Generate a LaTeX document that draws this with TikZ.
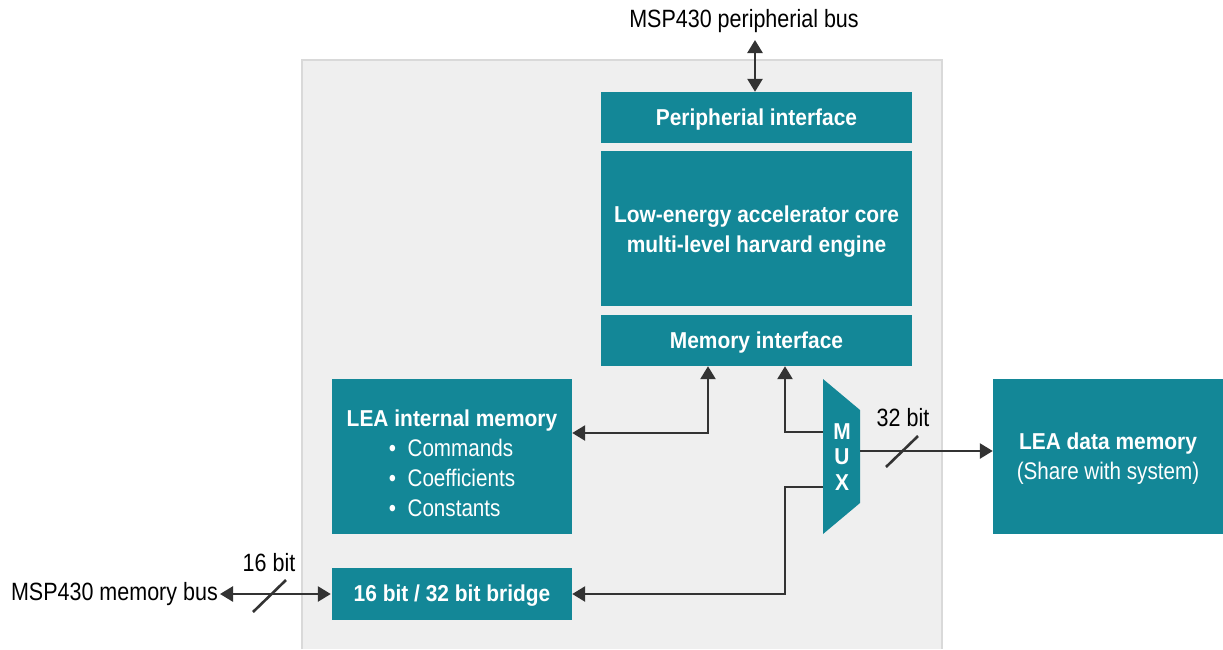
\documentclass[tikz,border=0pt]{standalone}
\usepackage{fontspec}
\setmainfont{Liberation Sans}[FakeStretch=0.86, BoldFeatures={FakeStretch=0.91}]
\usetikzlibrary{arrows.meta,calc}
\definecolor{teal1}{HTML}{138797}
\definecolor{bgray}{HTML}{EFEFEF}
\definecolor{bline}{HTML}{D9D9D9}
\definecolor{conn}{HTML}{333333}
\newlength\bulw
\newcommand{\dn}[2]{\raisebox{-#1}[\height][\depth]{\begin{tabular}{@{}c@{}}#2\end{tabular}}}
\newcommand{\rg}{\mdseries\fontsize{24}{30}\selectfont}
\tikzset{
  box/.style={fill=teal1, text=white, font=\bfseries\fontsize{23}{30}\selectfont, inner sep=0pt},
  lbl/.style={text=black, font=\fontsize{25}{30}\selectfont, inner sep=0pt},
  wire/.style={draw=conn, line width=2.6pt},
  arr/.style={wire, -{Triangle[length=13pt,width=15pt]}},
  darr/.style={wire, {Triangle[length=13pt,width=15pt]}-{Triangle[length=13pt,width=15pt]}}
}
\begin{document}
\begin{tikzpicture}[x=1pt,y=-1pt]
\useasboundingbox (0,0) rectangle (1223,649);
\fill[bgray] (302,60) rectangle (942,649);
\draw[bline, line width=1.5pt] (302,649) -- (302,60) -- (942,60) -- (942,649);

\node[box, minimum width=311pt, minimum height=51pt] (pi) at (756.5,117.5) {\dn{1.5pt}{Peripherial interface}};
\node[box, minimum width=311pt, minimum height=155pt] (core) at (756.5,228.5) {\dn{3pt}{Low-energy accelerator core\\multi-level harvard engine}};
\node[box, minimum width=311pt, minimum height=51pt] (memi) at (756.5,340.5) {\dn{1.5pt}{Memory interface}};
\node[box, minimum width=240pt, minimum height=155pt] (lim) at (452,456.5) {\settowidth{\bulw}{\rg\textbullet\ \ Coefficients}%
  \dn{9pt}{LEA internal memory\\
  \rg\makebox[\bulw][l]{\textbullet\ \ Commands}\\
  \rg\makebox[\bulw][l]{\textbullet\ \ Coefficients}\\
  \rg\makebox[\bulw][l]{\textbullet\ \ Constants}}};
\node[box, minimum width=230pt, minimum height=155pt] (ldm) at (1108,456.5) {\dn{2pt}{LEA data memory\\\rg (Share with system)}};
\node[box, minimum width=240pt, minimum height=52pt] (bridge) at (452,594) {\dn{1.5pt}{16 bit / 32 bit bridge}};

\coordinate (m1) at (823,379);
\coordinate (m2) at (860,410);
\coordinate (m3) at (860,503);
\coordinate (m4) at (823,534);
\fill[teal1] (m1) -- (m2) -- (m3) -- (m4) -- cycle;
\node[box, fill=none, align=center, font=\bfseries\fontsize{23}{25.5}\selectfont] (mux) at (842,457) {M\\U\\X};

% peripheral bus
\node[lbl] (pbl) at (744,21) {MSP430 peripherial bus};
\coordinate (pbus) at (755,40);
\draw[darr] (pbus) -- (pbus |- pi.north);

% memory interface <-> internal memory
\coordinate (j1) at (708,433);
\draw[darr] (memi.south -| j1) -- (j1) -- (lim.east |- j1);

% MUX -> memory interface
\coordinate (mx1) at (823,432);
\coordinate (j2) at (785,432);
\draw[arr] (mx1) -- (j2) -- (memi.south -| j2);

% MUX -> bridge
\coordinate (mx2) at (823,487);
\coordinate (j3) at (785,487);
\draw[arr] (mx2) -- (j3) -- (j3 |- bridge.east) -- (bridge.east);

% MUX -> data memory
\coordinate (mxo) at (860,451);
\draw[arr] (mxo) -- (ldm.west |- mxo);
\draw[wire] (886,467) -- (918,436);
\node[lbl] (b32) at (903,418) {32 bit};

% memory bus
\node[lbl, anchor=east] (mbus) at (218,594) {MSP430 memory bus};
\draw[darr, shorten <=2pt, shorten >=1pt] (mbus.east) -- (bridge.west |- mbus.east);
\draw[wire] (253,612) -- (286,580);
\node[lbl] (b16) at (269,563) {16 bit};
\end{tikzpicture}
\end{document}
